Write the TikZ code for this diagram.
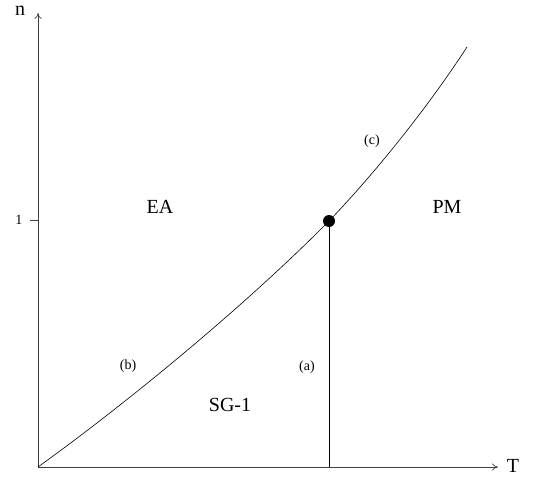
\documentclass[tikz,border=0pt]{standalone}
\usepackage{fontspec}
\setmainfont{Liberation Serif}
\usetikzlibrary{arrows.meta}

\begin{document}
\begin{tikzpicture}[x=1pt, y=1pt,
    axis/.style={draw=black!75, line width=0.7pt, -{To[length=6pt,width=7pt]}},
    region/.style={font=\fontsize{20}{22}\selectfont},
    branch/.style={font=\fontsize{14}{16}\selectfont}
  ]
    \useasboundingbox (0,0) rectangle (548,477);
    % axes
    \coordinate (o) at (38,10);
    \coordinate (xend) at (498,10);
    \coordinate (yend) at (38,464);
    \draw[axis] (o) -- (xend);
    \draw[axis] (o) -- (yend);
    \node[region] (tlab) at (513,11) {T};
    \node[region] (nlab) at (20,466) {n};
    \coordinate (tick) at (30,257);
    \draw[draw=black!75, line width=0.7pt] (tick) -- (tick -| o);
    \node[branch] (one) at (19,257) {1};
    % transition lines
    \node[circle, fill=black, inner sep=0pt, minimum size=12pt] (mc) at (329,256) {};
    \coordinate (cend) at (467,430);
    \draw[line width=0.6pt] (o) .. controls (135,80) and (250,176) .. (mc.center)
      .. controls (376,305) and (428,370) .. (cend);
    \draw[line width=0.6pt] (mc.center) -- (mc.center |- o);
    % phases
    \node[region] (ea) at (160,270) {EA};
    \node[region] (pm) at (447,270) {PM};
    \node[region] (sg) at (230,72) {SG-1};
    \node[branch] (la) at (307,110) {(a)};
    \node[branch] (lb) at (128,111) {(b)};
    \node[branch] (lc) at (372,336) {(c)};
\end{tikzpicture}
\end{document}
